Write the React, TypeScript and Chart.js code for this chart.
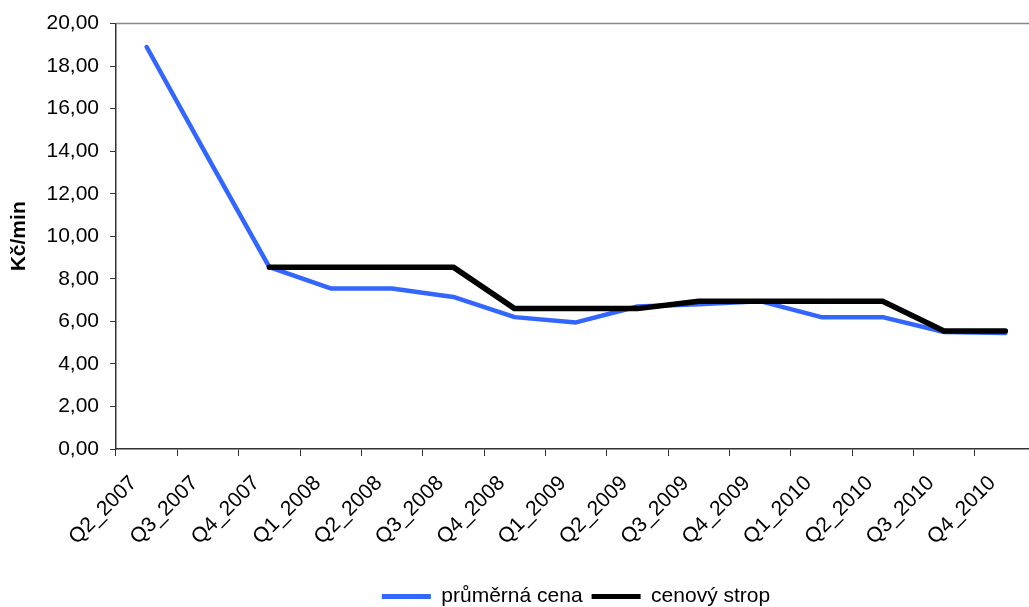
import React, { useEffect, useRef } from "react";
import { Chart, registerables } from "chart.js";

Chart.register(...registerables);

const categories = [
  "Q2_2007", "Q3_2007", "Q4_2007", "Q1_2008", "Q2_2008", "Q3_2008", "Q4_2008",
  "Q1_2009", "Q2_2009", "Q3_2009", "Q4_2009", "Q1_2010", "Q2_2010", "Q3_2010", "Q4_2010",
];

const prumernaCena = [18.9, 13.7, 8.55, 7.55, 7.55, 7.15, 6.2, 5.95, 6.7, 6.8, 6.95, 6.2, 6.2, 5.5, 5.45];
const cenovyStrop = [null, null, 8.55, 8.55, 8.55, 8.55, 6.6, 6.6, 6.6, 6.95, 6.95, 6.95, 6.95, 5.55, 5.55];

const yTickLabels = ["0,00", "2,00", "4,00", "6,00", "8,00", "10,00", "12,00", "14,00", "16,00", "18,00", "20,00"];

const FONT = "'Liberation Sans', Arial, Helvetica, sans-serif";

const topBorder = {
  id: "topBorder",
  afterDraw(chart: any) {
    const { ctx, chartArea } = chart;
    ctx.save();
    ctx.strokeStyle = "#888888";
    ctx.lineWidth = 1.5;
    ctx.beginPath();
    ctx.moveTo(chartArea.left, chartArea.top);
    ctx.lineTo(chartArea.right, chartArea.top);
    ctx.lineTo(chartArea.right, chartArea.bottom);
    ctx.stroke();
    ctx.restore();
  },
};

export default function App() {
  const ref = useRef<HTMLCanvasElement | null>(null);

  useEffect(() => {
    if (!ref.current) return;
    const chart = new Chart(ref.current, {
      type: "line",
      data: {
        labels: categories,
        datasets: [
          {
            label: "průměrná cena",
            data: prumernaCena,
            borderColor: "#3366FF",
            backgroundColor: "#3366FF",
            borderWidth: 4.5,
            pointRadius: 0,
            borderJoinStyle: "round",
            borderCapStyle: "round",
            tension: 0,
            order: 2,
          },
          {
            label: "cenový strop",
            data: cenovyStrop,
            borderColor: "#000000",
            backgroundColor: "#000000",
            borderWidth: 5.5,
            pointRadius: 0,
            borderJoinStyle: "round",
            borderCapStyle: "round",
            tension: 0,
            order: 1,
          },
        ],
      },
      options: {
        animation: false,
        responsive: true,
        maintainAspectRatio: false,
        layout: { padding: { left: 0, right: 9, top: 23, bottom: 0 } },
        plugins: {
          tooltip: { enabled: false },
          legend: {
            position: "bottom",
            fullSize: false,
            labels: {
              font: { family: FONT, size: 21 },
              color: "#000",
              boxWidth: 49,
              boxHeight: 5,
              padding: 9,
              generateLabels: (c: any) =>
                c.data.datasets.map((ds: any, i: number) => ({
                  text: ds.label,
                  fillStyle: ds.borderColor,
                  strokeStyle: ds.borderColor,
                  lineWidth: 0,
                  datasetIndex: i,
                  fontColor: "#000",
                })),
            },
          },
        },
        scales: {
          x: {
            type: "category",
            offset: true,
            grid: {
              offset: true,
              drawOnChartArea: false,
              drawTicks: true,
              tickLength: 7,
              color: "#333",
            },
            border: { display: true, color: "#333", width: 1.5 },
            ticks: {
              font: { family: FONT, size: 21 },
              color: "#000",
              maxRotation: 45,
              minRotation: 45,
              autoSkip: false,
              padding: 15,
              labelOffset: -13,
            },
            afterFit: (scale: any) => {
              scale.height = 128;
            },
          },
          y: {
            min: 0,
            max: 20,
            grid: {
              drawOnChartArea: false,
              drawTicks: true,
              tickLength: 6,
              color: "#333",
            },
            border: { display: true, color: "#333", width: 1.5 },
            ticks: {
              stepSize: 2,
              font: { family: FONT, size: 21 },
              color: "#000",
              padding: 11,
              callback: (_v: any, i: number) => yTickLabels[i],
            },
            title: {
              display: true,
              text: "Kč/min",
              font: { family: FONT, size: 21, weight: "bold" },
              color: "#000",
              padding: { top: 7, bottom: 0 },
            },
            afterFit: (scale: any) => {
              scale.width = 116;
            },
          },
        },
      },
      plugins: [topBorder],
    });
    return () => chart.destroy();
  }, []);

  return (
    <div
      style={{
        position: "fixed",
        left: 0,
        top: 0,
        width: 1029,
        height: 607,
        overflow: "hidden",
        background: "#fff",
      }}
    >
      <div style={{ position: "absolute", left: 0, top: 0, width: 1045, height: 617 }}>
        <canvas ref={ref} />
      </div>
    </div>
  );
}
